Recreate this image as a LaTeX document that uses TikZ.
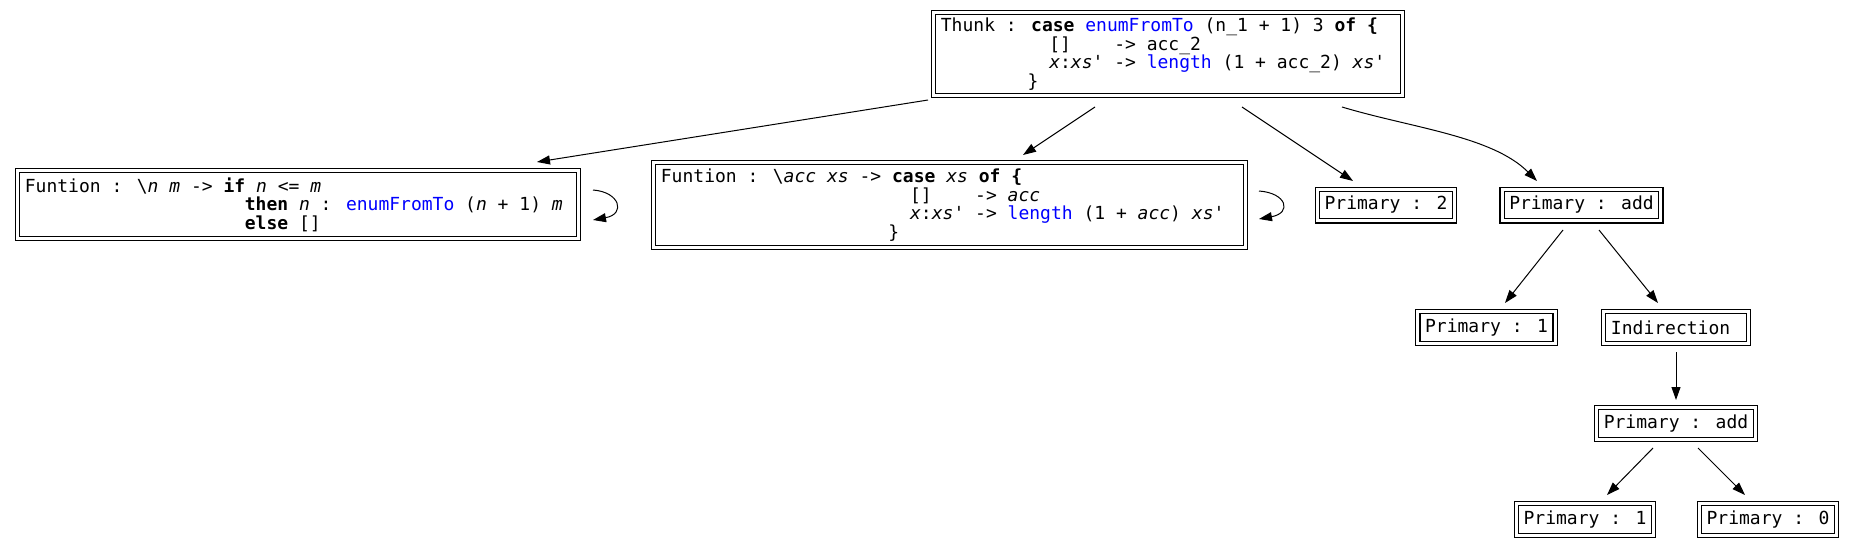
\documentclass[tikz,border=0pt]{standalone}
\usepackage{fontspec}
\newfontfamily\dmono{DejaVu Sans Mono}
\usetikzlibrary{arrows.meta,calc}
\newlength\mcw
\newcommand\ind[1]{\hspace*{#1\mcw}}
\newcommand\padline[2]{\makebox[#1][l]{#2}}
\begin{document}
\begin{tikzpicture}[x=1pt,y=-1pt,
  box/.style={draw, double, double distance=3pt, line width=1.2pt,
    inner xsep=7.2pt, inner ysep=0pt, minimum height=31.6pt,
    font={\fontsize{18}{18.6}\selectfont\dmono\setlength\mcw{0.60205em}}},
  mbox/.style={box, align=left},
  edge/.style={line width=1pt, -{Triangle[length=13pt,width=9pt]}}]
\fill[white] (0,0) rectangle (1853,549);
\useasboundingbox (0,0) rectangle (1853,549);

% nodes
\node[mbox, minimum height=82.6pt] (T) at (1168,54)
  {\padline{454.2pt}{Thunk : \textbf{case} \textcolor{blue}{enumFromTo} (n\_1 + 1) 3 \textbf{of \{}}\\
   \ind{10}[]\ind{4}-> acc\_2\\
   \ind{10}\textit{x}:\textit{xs}' -> \textcolor{blue}{length} (1 + acc\_2) \textit{xs}'\\
   \ind{8}\}};
\node[mbox, minimum height=67.6pt] (F1) at (298,204.5)
  {\padline{546.2pt}{Funtion : \textbackslash\textit{n} \textit{m} -> \textbf{if} \textit{n} <= \textit{m}}\\
   \ind{20.3}\textbf{then} \textit{n} : \textcolor{blue}{enumFromTo} (\textit{n} + 1) \textit{m}\\
   \ind{20.3}\textbf{else} []};
\node[mbox, minimum height=84.6pt] (F2) at (949.5,205)
  {\padline{577.2pt}{Funtion : \textbackslash\textit{acc} \textit{xs} -> \textbf{case} \textit{xs} \textbf{of \{}}\\
   \ind{23}[]\ind{4}-> \textit{acc}\\
   \ind{23}\textit{x}:\textit{xs}' -> \textcolor{blue}{length} (1 + \textit{acc}) \textit{xs}'\\
   \ind{21}\}};
\node[box] (P2) at (1386,205) {Primary : 2};
\node[box] (PA) at (1581.5,205) {Primary : add};
\node[box] (P1a) at (1486.5,327.5) {Primary : 1};
\node[box] (Ind) at (1676,327.5) {Indirection\ind{1}};
\node[box] (PA2) at (1676,423.5) {Primary : add};
\node[box] (P1b) at (1585,519.5) {Primary : 1};
\node[box] (P0) at (1768,519.5) {Primary : 0};

% edges
\draw[edge] ($(T.center)+(-240,46)$) -- ($(F1.center)+(239,-42.5)$);
\draw[edge] ($(T.center)+(-73,53)$) -- ($(F2.center)+(73.5,-50)$);
\draw[edge] ($(T.center)+(74,53)$) -- ($(P2.center)+(-33,-24)$);
\draw[edge] ($(T.center)+(174,53)$) .. controls ($(T.center)+(244,74)$) and ($(PA.center)+(-89.5,-69)$) .. ($(PA.center)+(-44.5,-24)$);
\draw[edge] ($(PA.center)+(-18.5,25)$) -- ($(P1a.center)+(18.5,-24.5)$);
\draw[edge] ($(PA.center)+(17.5,25)$) -- ($(Ind.center)+(-18,-24.5)$);
\draw[edge] ($(Ind.center)+(0,24.5)$) -- ($(PA2.center)+(0,-23.5)$);
\draw[edge] ($(PA2.center)+(-23,24.5)$) -- ($(P1b.center)+(22,-24.5)$);
\draw[edge] ($(PA2.center)+(22,24.5)$) -- ($(P0.center)+(-23,-24.5)$);

% self loops
\draw[edge] ($(F1.center)+(295,-14.5)$) .. controls ($(F1.center)+(322,-12.5)$) and ($(F1.center)+(328,9.5)$) .. ($(F1.center)+(295,15.5)$);
\draw[edge] ($(F2.center)+(309.5,-14)$) .. controls ($(F2.center)+(337.5,-12)$) and ($(F2.center)+(342.5,8)$) .. ($(F2.center)+(309.5,14)$);
\end{tikzpicture}
\end{document}
